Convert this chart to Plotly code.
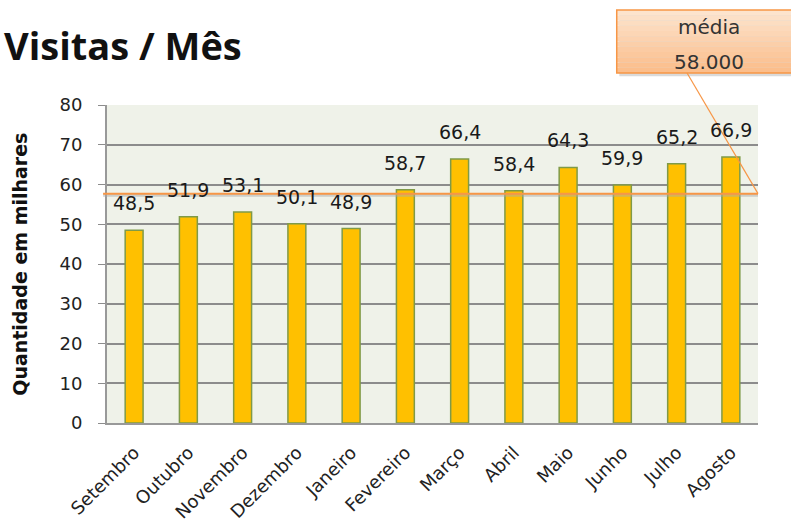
import plotly.graph_objects as go

months = ["Setembro", "Outubro", "Novembro", "Dezembro", "Janeiro", "Fevereiro",
          "Março", "Abril", "Maio", "Junho", "Julho", "Agosto"]
visits = [48.5, 51.9, 53.1, 50.1, 48.9, 58.7, 66.4, 58.4, 64.3, 59.9, 65.2, 66.9]
average = 57.7
callout_lines = ["média", "58.000"]
y_ticks = [0, 10, 20, 30, 40, 50, 60, 70, 80]

labels = [f"{v:.1f}".replace(".", ",") for v in visits]

fig = go.Figure()
fig.add_trace(go.Bar(
    x=months, y=visits, width=0.33,
    marker=dict(color="#ffc000", line=dict(color="#7f9a48", width=1.5)),
    hoverinfo="skip",
))

for m, v, t in zip(months, visits, labels):
    fig.add_annotation(dict(x=m, y=v, text=t, showarrow=False, yshift=27,
                            xanchor="center", yanchor="middle",
                            font=dict(family="DejaVu Sans", size=19, color="#1a1a1a")))

# Title
fig.add_annotation(dict(xref="paper", yref="paper", x=-0.161, y=1.19, text="<b>Visitas / Mês</b>",
                        showarrow=False, xanchor="left", yanchor="middle",
                        font=dict(family="Open Sans", size=38, color="#111111")))
# Y axis title
fig.add_annotation(dict(xref="paper", yref="paper", x=-0.134, y=0.5, text="<b>Quantidade em milhares</b>",
                        showarrow=False, xanchor="center", yanchor="middle", textangle=-90,
                        font=dict(family="DejaVu Sans", size=19, color="#111111")))

shapes = []
# average line shadow + line
shapes.append(dict(type="line", xref="paper", yref="y", x0=-0.006, x1=1.0, y0=average - 0.4, y1=average - 0.4,
                   line=dict(color="rgba(170,170,170,0.5)", width=3), layer="above"))
shapes.append(dict(type="line", xref="paper", yref="y", x0=-0.006, x1=1.0, y0=average, y1=average,
                   line=dict(color="#f79646", width=2), layer="above"))

# callout box: gradient bands
bx0, bx1, by0, by1 = 0.783, 1.07, 1.1006, 1.299
# shadow
shapes.append(dict(type="rect", xref="paper", yref="paper", x0=bx0 + 0.004, x1=bx1 + 0.004,
                   y0=by0 - 0.01, y1=by1 - 0.01, fillcolor="rgba(150,150,150,0.35)",
                   line=dict(width=0), layer="above"))
n = 12
top = (253, 228, 205)
bot = (251, 190, 140)
for i in range(n):
    f = i / (n - 1)
    c = tuple(int(top[k] + (bot[k] - top[k]) * f) for k in range(3))
    ya = by1 - (by1 - by0) * i / n
    yb = by1 - (by1 - by0) * (i + 1) / n
    shapes.append(dict(type="rect", xref="paper", yref="paper", x0=bx0, x1=bx1, y0=yb, y1=ya,
                       fillcolor=f"rgb{c}", line=dict(width=0), layer="above"))
shapes.append(dict(type="rect", xref="paper", yref="paper", x0=bx0, x1=bx1, y0=by0, y1=by1,
                   fillcolor="rgba(0,0,0,0)", line=dict(color="#f79646", width=1.5), layer="above"))
# pointer
shapes.append(dict(type="line", xref="paper", yref="paper", x0=0.891, x1=1.0, y0=by0, y1=average / 80,
                   line=dict(color="#f79646", width=1.2), layer="above"))

fig.add_annotation(dict(xref="paper", yref="paper", x=0.924, y=1.245, text=callout_lines[0],
                        showarrow=False, xanchor="center", yanchor="middle",
                        font=dict(family="DejaVu Sans", size=20, color="#333333")))
fig.add_annotation(dict(xref="paper", yref="paper", x=0.924, y=1.135, text=callout_lines[1],
                        showarrow=False, xanchor="center", yanchor="middle",
                        font=dict(family="DejaVu Sans", size=20, color="#333333")))

fig.update_layout(
    width=791, height=530,
    margin=dict(l=107, r=33, t=105, b=107, autoexpand=False),
    paper_bgcolor="white",
    plot_bgcolor="#eff2e9",
    showlegend=False,
    shapes=shapes,
)
fig.update_xaxes(
    range=[-0.5, 11.5], tickangle=-45, showgrid=False,
    tickfont=dict(family="DejaVu Sans", size=18, color="#222222"),
    showline=True, linecolor="#999999", linewidth=2, ticks="", ticklabelstandoff=10,
)
fig.update_yaxes(
    range=[0, 80], tickvals=y_ticks, showgrid=True, gridcolor="#8c8c8c", gridwidth=1.5,
    tickfont=dict(family="DejaVu Sans", size=18, color="#222222"),
    ticks="outside", ticklen=7, tickcolor="#8c8c8c", ticklabelstandoff=12,
    showline=True, linecolor="#999999", linewidth=2, zeroline=False,
)

fig.write_html("out.html", config={"displayModeBar": False},
               post_script="document.body.style.margin='0';")
